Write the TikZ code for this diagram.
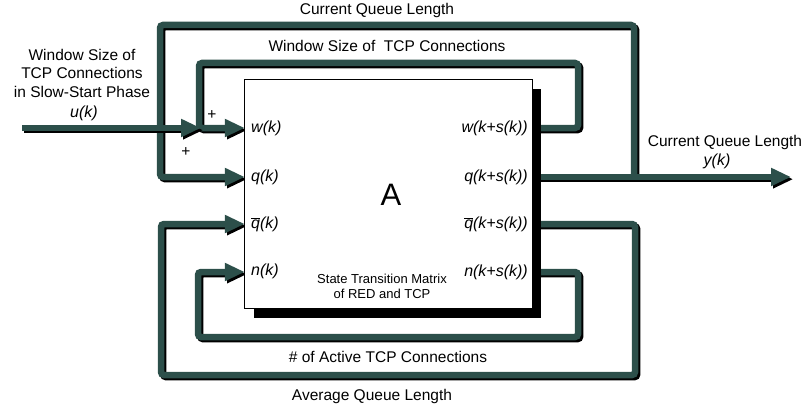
\documentclass[tikz,border=0pt]{standalone}
\usepackage{fontspec}
\setmainfont{Liberation Sans}
\usetikzlibrary{arrows.meta}
\definecolor{lg}{RGB}{44,79,74}
\newcommand\wire[2][]{%
  \draw[wireshadow,#1] #2;
  \draw[wiregreen,#1] #2;}
\begin{document}
\begin{tikzpicture}[x=1pt,y=-1pt,
  wirebase/.style={line width=6.5pt, rounded corners=3pt},
  wiregreen/.style={wirebase, draw=lg, fill=none},
  wireshadow/.style={wirebase, draw=black, transform canvas={shift={(2.2pt,-2.2pt)}}},
  tipped/.style={-{Triangle[length=20pt,width=17pt]}},
  lbl/.style={font=\fontsize{15.5}{18.5}\selectfont, inner sep=0pt, align=center},
  port/.style={font=\fontsize{16}{19}\selectfont\itshape, inner sep=0pt},
  small/.style={font=\fontsize{13}{15}\selectfont, inner sep=0pt, align=center}
]
\useasboundingbox (0,0) rectangle (808,412);

% block (named) and its shadow
\node[draw=none, minimum width=287pt, minimum height=228pt, inner sep=0pt] (box) at (388.5,194) {};
\coordinate (wi)  at (box.west |- 0,128);
\coordinate (qi)  at (box.west |- 0,177);
\coordinate (qbi) at (box.west |- 0,224);
\coordinate (ni)  at (box.west |- 0,272);
\coordinate (wo)  at (box.east |- 0,128);
\coordinate (qo)  at (box.east |- 0,177);
\coordinate (qbo) at (box.east |- 0,224);
\coordinate (no)  at (box.east |- 0,272);
\coordinate (uin) at (22,128);
\coordinate (sum) at (201,128);
\coordinate (tap) at (634,177);
\coordinate (yend) at (791,177);

% current queue length loop
\wire[tipped]{(tap) -- (634,25) -- (160,25) -- (160,177) -- (qi)}
% window size loop
\wire[tipped]{(wo) -- (578,128) -- (578,63) -- (199,63) -- (199,128) -- (wi)}
% average queue length loop
\wire[tipped]{(qbo) -- (635,224) -- (635,375) -- (161,375) -- (161,224) -- (qbi)}
% active connections loop
\wire[tipped]{(no) -- (578,272) -- (578,337) -- (198,337) -- (198,272) -- (ni)}
% output
\wire[tipped]{(qo) -- (yend)}
% input u(k)
\wire[tipped]{(uin) -- (sum)}

% box shadow and box
\fill[black] ([shift={(9pt,-9pt)}]box.north west) rectangle ([shift={(9pt,-10pt)}]box.south east);
\fill[white] (box.north west) rectangle (box.south east);
\draw[black, line width=0.9pt] (box.north west) rectangle (box.south east);

% labels
\node[lbl] (tcq) at (377,10) {Current Queue Length};
\node[lbl] (twin) at (387,46) {Window Size of \ TCP Connections};
\node[lbl] (tin) at (82,73) {Window Size of\\TCP Connections\\in Slow-Start Phase};
\node[port] (tu) at (84,113) {u(k)};
\node[lbl] (p1) at (212,115) {+};
\node[lbl] (p2) at (186,152) {+};
\node[lbl] (tout) at (725,142) {Current Queue Length};
\node[port] (ty) at (717,161) {y(k)};
\node[font=\fontsize{31}{34}\selectfont, inner sep=0pt] (tA) at (391,195) {A};
\node[small] (tstm) at (382,286) {State Transition Matrix\\of RED and TCP};
\node[lbl] (tact) at (388,357) {\# of Active TCP Connections};
\node[lbl] (tavg) at (372,396) {Average Queue Length};

\node[port, anchor=west] (lw) at (251,128) {w(k)};
\node[port, anchor=west] (lq) at (251,177) {q(k)};
\node[port, anchor=west] (lqb) at (251,224) {$\overline{\hbox{\itshape q}}$(k)};
\node[port, anchor=west] (ln) at (251,271) {n(k)};
\node[port, anchor=east] (rw) at (528,128) {w(k+s(k))};
\node[port, anchor=east] (rq) at (528,177) {q(k+s(k))};
\node[port, anchor=east] (rqb) at (528,224) {$\overline{\hbox{\itshape q}}$(k+s(k))};
\node[port, anchor=east] (rn) at (528,272) {n(k+s(k))};
\end{tikzpicture}
\end{document}
